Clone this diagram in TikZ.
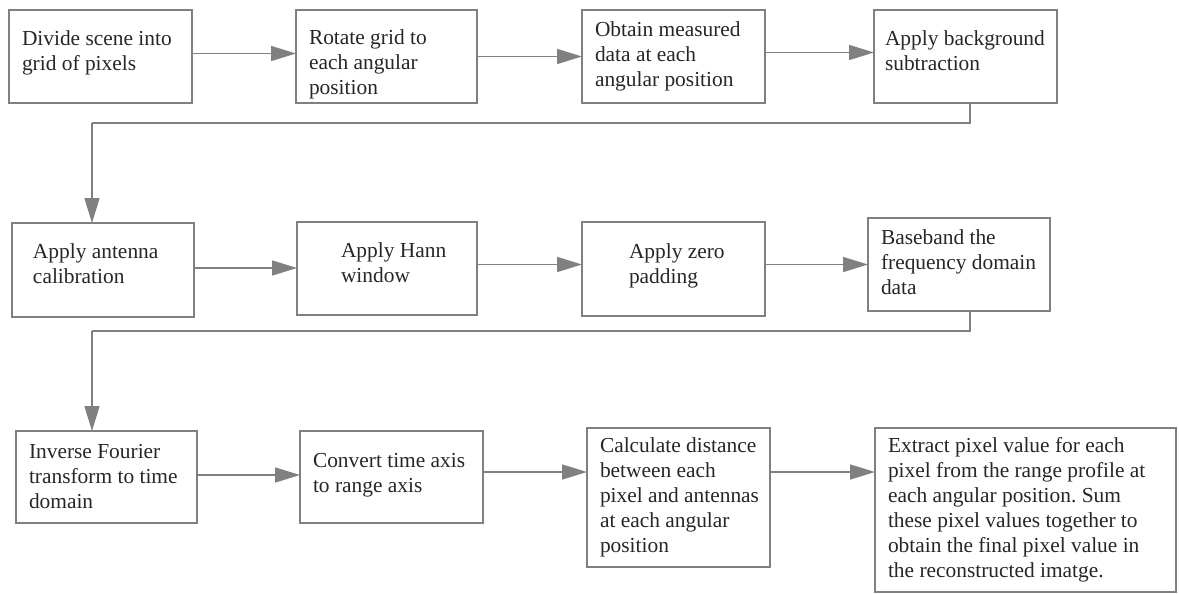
\documentclass[tikz,border=0pt]{standalone}
\usepackage{fontspec}
\setmainfont{Liberation Serif}
\usetikzlibrary{arrows.meta}
\frenchspacing

\definecolor{linegray}{RGB}{128,128,128}

% extra depth (pushes text up), extra height (pushes text down), indent
\newcommand{\lift}[1]{\rule[-#1]{0pt}{0pt}}
\newcommand{\sink}[1]{\rule{0pt}{#1}}
\newcommand{\pad}[1]{\hspace*{#1}}

\tikzset{
    stepbox/.style={draw=linegray, line width=0.75pt, anchor=north west,
        inner xsep=5.5pt, inner ysep=0pt, outer sep=0pt, align=flush left,
        text=black!85, font=\fontsize{10.7}{12.5}\selectfont},
    flow/.style={draw=linegray, line width=0.75pt,
        -{Triangle[length=12.5pt, width=7.5pt]}},
    link/.style={draw=linegray, line width=0.75pt}
}

\begin{document}
\begin{tikzpicture}[x=0.5pt, y=-0.5pt]

    % page frame (pixels of the reference)
    \useasboundingbox (0,0) rectangle (1179,594);

    % ---------- first row ----------
    \node[stepbox, text width=80.5pt, minimum width=91.5pt, minimum height=46.5pt] (b1) at (9,10)
        {\pad{1pt}Divide scene into\\\pad{1pt}grid of pixels\lift{6pt}};
    \node[stepbox, text width=79.5pt, minimum width=90.5pt, minimum height=46.5pt] (b2) at (296,10)
        {\sink{15pt}\pad{1pt}Rotate grid to\\\pad{1pt}each angular\\\pad{1pt}position};
    \node[stepbox, text width=80.5pt, minimum width=91.5pt, minimum height=46.5pt] (b3) at (582,10)
        {\pad{1pt}Obtain measured\\\pad{1pt}data at each\\\pad{1pt}angular position};
    \node[stepbox, text width=80.5pt, minimum width=91.5pt, minimum height=46.5pt] (b4) at (874,10)
        {Apply background\\subtraction\lift{6pt}};

    % ---------- second row ----------
    \node[stepbox, text width=80pt, minimum width=91pt, minimum height=47pt] (b5) at (12,223)
        {\pad{5pt}Apply antenna\\\pad{5pt}calibration\lift{6.5pt}};
    \node[stepbox, text width=79pt, minimum width=90pt, minimum height=46.5pt] (b6) at (297,222)
        {\pad{16.5pt}Apply Hann\\\pad{16.5pt}window\lift{6pt}};
    \node[stepbox, text width=80.5pt, minimum width=91.5pt, minimum height=47pt] (b7) at (582,222)
        {\pad{18pt}Apply zero\\\pad{18pt}padding\lift{5.5pt}};
    \node[stepbox, text width=80pt, minimum width=91pt, minimum height=46.5pt] (b8) at (868,218)
        {\pad{1pt}Baseband the\\\pad{1pt}frequency domain\\\pad{1pt}data\lift{2.5pt}};

    % ---------- third row ----------
    \node[stepbox, text width=79.5pt, minimum width=90.5pt, minimum height=46pt] (b9) at (16,431)
        {\pad{1pt}Inverse Fourier\\\pad{1pt}transform to time\\\pad{1pt}domain\lift{1pt}};
    \node[stepbox, text width=80.5pt, minimum width=91.5pt, minimum height=46pt] (b10) at (300,431)
        {\pad{1pt}Convert time axis\\\pad{1pt}to range axis\lift{4.5pt}};
    \node[stepbox, text width=80.5pt, minimum width=91.5pt, minimum height=69.5pt] (b11) at (587,428)
        {\pad{1pt}Calculate distance\\\pad{1pt}between each\\\pad{1pt}pixel and antennas\\\pad{1pt}at each angular\\\pad{1pt}position\lift{1pt}};
    \node[stepbox, text width=139.5pt, minimum width=150.5pt, minimum height=82pt] (b12) at (875,428)
        {\pad{1pt}Extract pixel value for each\\\pad{1pt}pixel from the range profile at\\\pad{1pt}each angular position. Sum\\\pad{1pt}these pixel values together to\\\pad{1pt}obtain the final pixel value in\\\pad{1pt}the reconstructed imatge.\lift{1.5pt}};

    % ---------- row turns ----------
    \coordinate (k1) at (92,123);
    \coordinate (k2) at (92,331);

    % ---------- connectors ----------
    \draw[flow] ([yshift=1.5pt]b1.east) -- ([yshift=1.5pt]b2.west);
    \draw[flow] (b2.east) -- (b3.west);
    \draw[flow] ([yshift=2pt]b3.east) -- ([yshift=2pt]b4.west);
    \draw[link] ([xshift=2.25pt]b4.south) |- (k1);
    \draw[flow] (k1) -- (k1 |- b5.north);

    \draw[flow] ([yshift=1pt]b5.east) -- ([yshift=1pt]b5.east -| b6.west);
    \draw[flow] ([yshift=2pt]b6.east) -- ([yshift=2pt]b6.east -| b7.west);
    \draw[flow] (b7.east |- b8.west) -- (b8.west);
    \draw[link] ([xshift=5.5pt]b8.south) |- (k2);
    \draw[flow] (k2) -- (k2 |- b9.north);

    \draw[flow] ([yshift=1pt]b9.east) -- ([yshift=1pt]b9.east -| b10.west);
    \draw[flow] ([yshift=2.5pt]b10.east) -- ([yshift=2.5pt]b10.east -| b11.west);
    \draw[flow] ([yshift=2.5pt]b10.east -| b11.east) -- ([yshift=2.5pt]b10.east -| b12.west);

\end{tikzpicture}
\end{document}
